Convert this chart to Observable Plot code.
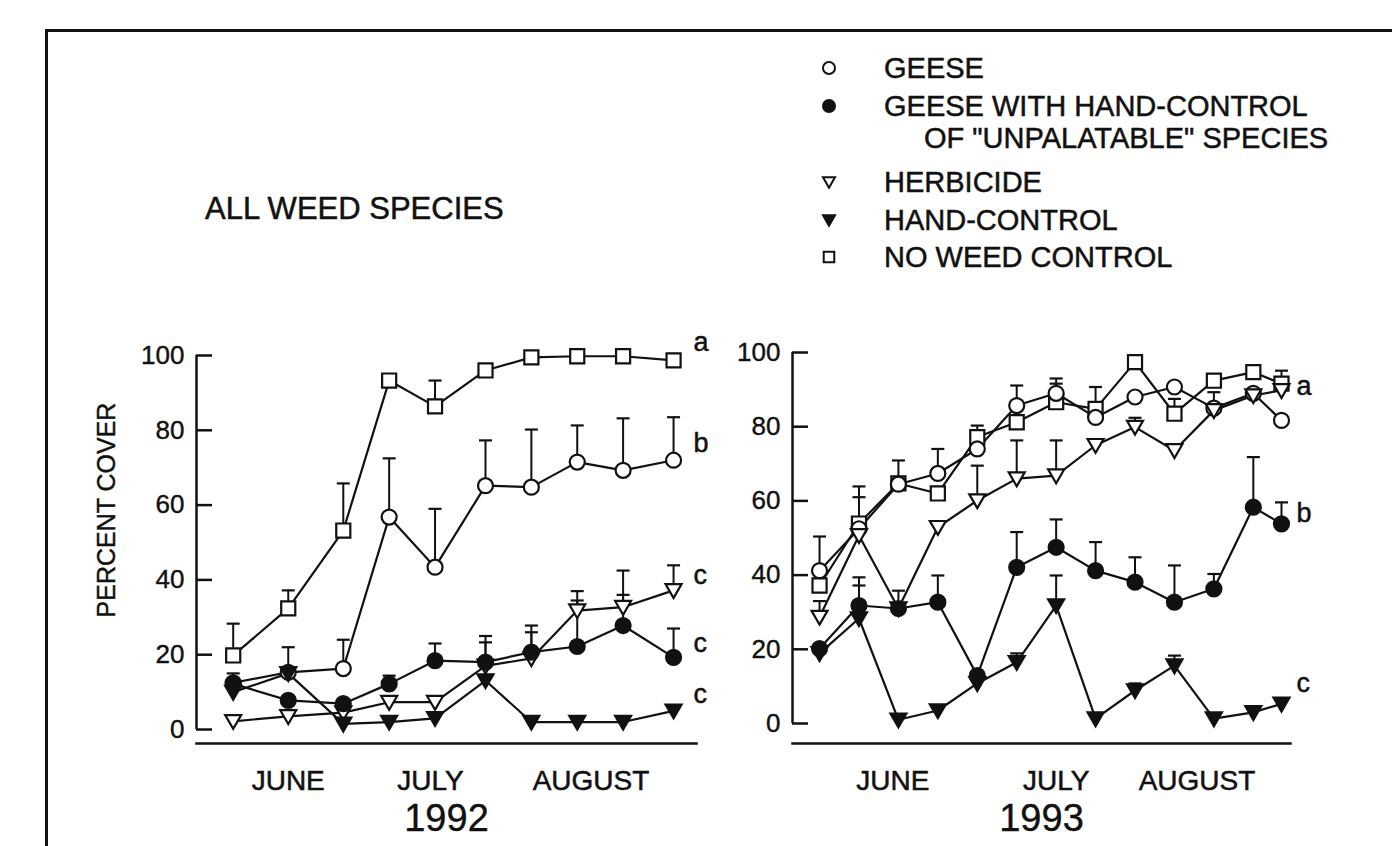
<!DOCTYPE html>
<html>
<head>
<meta charset="utf-8">
<script src="https://cdn.jsdelivr.net/npm/d3@7"></script>
<script src="https://cdn.jsdelivr.net/npm/@observablehq/plot@0.6"></script>
<style>
  html, body { margin: 0; padding: 0; background: #fff; }
  #wrap { position: relative; width: 1392px; height: 846px; overflow: hidden; background: #fff;
          font-family: "Liberation Sans", Arial, Helvetica, sans-serif; color: #111; }
  .border { position: absolute; left: 45px; top: 29px; right: -10px; bottom: -10px;
            border-top: 3px solid #111; border-left: 3px solid #111; }
  .title { position: absolute; left: 205px; top: 191px; font-size: 31px; line-height: 36px; white-space: nowrap;
           -webkit-text-stroke: 0.5px #111; }
  .ylab { position: absolute; left: 106px; top: 510px; font-size: 25px; line-height: 28px; white-space: nowrap;
          transform: translate(-50%, -50%) rotate(-90deg); -webkit-text-stroke: 0.4px #111; }
  .leg { position: absolute; left: 815px; top: 0; width: 570px; height: 290px; }
  .row { position: absolute; left: 0; height: 32px; line-height: 32px; font-size: 29px; white-space: nowrap;
         -webkit-text-stroke: 0.5px #111; }
  .row svg { position: absolute; left: 0; top: 4px; }
  .row span { position: absolute; left: 69px; }
  .panel { position: absolute; top: 320px; }
  .panel svg { overflow: visible; }
</style>
</head>
<body>
<div id="wrap">
  <div class="border"></div>
  <div class="title" id="title"></div>
  <div class="ylab" id="ylab"></div>
  <div class="leg" id="legend"></div>
  <div class="panel" id="p1992" style="left:60px"></div>
  <div class="panel" id="p1993" style="left:720px"></div>
</div>
<script>
// ---------------- data ----------------
const chartTitle = "ALL WEED SPECIES";
const yAxisLabel = "PERCENT COVER";
const yTicks = [0, 20, 40, 60, 80, 100];
const monthLabels = ["JUNE", "JULY", "AUGUST"];

// sampling days (days after 31 May)
const days1992 = [3, 15, 27, 37, 47, 58, 68, 78, 88, 99];
const monthDays1992 = [15, 46, 81];
const geese1992        = [12.5, 15.3, 16.3, 56.8, 43.4, 65.2, 64.8, 71.5, 69.3, 72.0];
const geeseErr1992     = [null, 22.0, 24.0, 72.5, 59.0, 77.3, 80.2, 81.3, 83.2, 83.5];
const geeseHand1992    = [12.2, 7.8, 6.9, 12.2, 18.4, 18.0, 20.7, 22.2, 27.8, 19.3];
const geeseHandErr1992 = [15.0, null, null, 14.4, 23.0, null, 27.8, 34.5, 36.0, 27.0];
const herbicide1992    = [2.2, 3.5, 4.5, 7.3, 7.3, 17.0, 19.0, 31.8, 32.7, 37.2];
const herbicideErr1992 = [null, null, null, null, null, 25.0, 26.0, 37.0, 42.5, 43.9];
const hand1992         = [10.0, 15.0, 1.5, 2.0, 3.0, 13.1, 2.0, 2.0, 2.0, 5.0];
const handErr1992      = [null, null, null, null, null, 23.3, null, null, null, null];
const none1992         = [19.8, 32.4, 53.2, 93.3, 86.4, 96.0, 99.5, 99.8, 99.8, 98.7];
const noneErr1992      = [28.3, 37.2, 65.8, null, 93.3, null, null, null, null, null];
const letters1992      = ["a", "b", "c", "c", "c"];
const letterY1992      = [103.5, 76.5, 41.2, 23.0, 9.3];

const days1993 = [2, 9, 16, 23, 30, 37, 44, 51, 58, 65, 72, 79, 84];
const monthDays1993 = [15, 44, 69];
const geese1993        = [41.2, 52.5, 64.5, 67.4, 74.0, 85.7, 89.0, 82.5, 88.0, 90.7, 85.0, 89.0, 81.7];
const geeseErr1993     = [50.4, 63.9, null, 74.0, 80.3, 91.1, 93.0, null, null, null, null, null, null];
const geeseHand1993    = [20.2, 31.8, 31.0, 32.7, 12.9, 42.1, 47.5, 41.2, 38.1, 32.7, 36.3, 58.3, 53.8];
const geeseHandErr1993 = [null, 39.4, null, 39.9, null, 51.6, 55.0, 48.9, 44.8, 42.6, 40.3, 71.8, 59.6];
const herbicide1993    = [28.7, 50.7, 31.0, 52.9, 60.1, 66.0, 66.8, 75.0, 79.9, 73.6, 84.4, 88.4, 89.8];
const herbicideErr1993 = [33.0, null, 35.8, null, 69.5, 76.3, 76.3, null, 82.4, null, 89.3, null, null];
const hand1993         = [18.9, 28.3, 1.0, 3.5, 10.8, 16.5, 31.8, 1.3, 8.9, 15.6, 1.3, 3.0, 5.3];
const handErr1993      = [null, 37.2, null, null, null, 18.9, 39.9, null, 10.8, 18.3, null, null, null];
const none1993         = [37.2, 53.9, 64.7, 62.0, 77.2, 81.2, 86.6, 84.8, 97.4, 83.5, 92.4, 94.7, 91.6];
const noneErr1993      = [null, 61.0, 70.9, null, 78.5, null, 91.6, 90.7, null, 87.5, null, null, 95.1];
const letters1993      = ["a", "b", "c"];
const letterY1993      = [91.0, 56.6, 10.8];

const legendLines = ["GEESE", "GEESE WITH HAND-CONTROL", "OF \"UNPALATABLE\" SPECIES", "HERBICIDE", "HAND-CONTROL", "NO WEED CONTROL"];

// ---------------- symbols ----------------
const INK = "#111";
const triDown = { draw(ctx, size) { const r = Math.sqrt(size / Math.PI);
  ctx.moveTo(-r * 1.0, -r * 0.78); ctx.lineTo(r * 1.0, -r * 0.78); ctx.lineTo(0, r * 0.95); ctx.closePath(); } };
const squareSym = { draw(ctx, size) { const r = Math.sqrt(size / Math.PI) * 0.88;
  ctx.moveTo(-r, -r); ctx.lineTo(r, -r); ctx.lineTo(r, r); ctx.lineTo(-r, r); ctx.closePath(); } };
const capSym = { draw(ctx, size) { const r = Math.sqrt(size / Math.PI);
  ctx.moveTo(-r, 0); ctx.lineTo(r, 0); } };

const styles = {
  none:      { symbol: squareSym, fill: "white", r: 8 },
  geese:     { symbol: "circle",  fill: "white", r: 7.5 },
  herbicide: { symbol: triDown,   fill: "white", r: 8 },
  geeseHand: { symbol: "circle",  fill: INK,     r: 7.5 },
  hand:      { symbol: triDown,   fill: INK,     r: 8 }
};

function makePanel(cfg) {
  const series = [
    { key: "none", v: cfg.none, e: cfg.noneErr },
    { key: "geese", v: cfg.geese, e: cfg.geeseErr },
    { key: "herbicide", v: cfg.herbicide, e: cfg.herbicideErr },
    { key: "geeseHand", v: cfg.geeseHand, e: cfg.geeseHandErr },
    { key: "hand", v: cfg.hand, e: cfg.handErr }
  ];
  const rows = series.map(s => cfg.days.map((d, i) => ({ day: d, v: s.v[i], err: s.e[i], key: s.key })));
  const all = rows.flat();
  const errs = all.filter(d => d.err != null);
  const letters = cfg.letters.map((t, i) => ({ t, y: cfg.letterY[i] }));
  const x0 = cfg.xDomain[0];
  const marks = [
    Plot.ruleX([x0], { y1: 0, y2: 100, stroke: INK, strokeWidth: 2.5 }),
    Plot.frame({ anchor: "bottom", stroke: INK, strokeWidth: 2.5 }),
    Plot.axisY(yTicks, { tickSize: -16, tickFormat: () => "", stroke: INK, strokeWidth: 2.5, label: null }),
    Plot.axisY(yTicks, { tickSize: 0, tickPadding: 12, fontSize: 26, fill: INK, textStroke: INK, textStrokeWidth: 0.4, label: null }),
    Plot.axisX(cfg.monthDays, { tickSize: 0, tickPadding: 27, fontSize: 28, fill: INK, textStroke: INK, textStrokeWidth: 0.5,
      tickFormat: (d, i) => monthLabels[i], label: null }),
    Plot.line(all, { x: "day", y: "v", z: "key", stroke: INK, strokeWidth: 2.2 }),
    Plot.ruleX(errs, { x: "day", y1: "v", y2: "err", stroke: INK, strokeWidth: 2 }),
    Plot.dot(errs, { x: "day", y: "err", symbol: capSym, r: 6.5, stroke: INK, strokeWidth: 2.2 })
  ];
  rows.forEach(r => {
    const st = styles[r[0].key];
    marks.push(Plot.dot(r, { x: "day", y: "v", symbol: st.symbol, r: st.r, fill: st.fill, stroke: INK, strokeWidth: 2.2 }));
  });
  marks.push(Plot.text(letters, { y: "y", text: "t", frameAnchor: "right", dx: cfg.letterDx, textAnchor: "start",
    fontSize: 27, fill: INK, stroke: INK, strokeWidth: 0.5 }));
  marks.push(Plot.text([cfg.year], { frameAnchor: "bottom", dy: 87, fontSize: 38, fill: INK, stroke: INK, strokeWidth: 0.4 }));
  return Plot.plot({
    width: cfg.width, height: 526,
    marginLeft: cfg.marginLeft, marginRight: cfg.marginRight, marginTop: cfg.marginTop, marginBottom: 103,
    style: { fontFamily: "'Liberation Sans', Arial, Helvetica, sans-serif", background: "transparent", color: INK, overflow: "visible" },
    x: { domain: cfg.xDomain },
    y: { domain: cfg.yDomain },
    marks
  });
}

document.getElementById("p1992").appendChild(makePanel({
  days: days1992, monthDays: monthDays1992, year: "1992",
  geese: geese1992, geeseErr: geeseErr1992, geeseHand: geeseHand1992, geeseHandErr: geeseHandErr1992,
  herbicide: herbicide1992, herbicideErr: herbicideErr1992, hand: hand1992, handErr: handErr1992,
  none: none1992, noneErr: noneErr1992, letters: letters1992, letterY: letterY1992, letterDx: -3,
  width: 660, marginLeft: 136, marginRight: 24, marginTop: 35,
  xDomain: [-5, 104], yDomain: [-3.74, 100]
}));

document.getElementById("p1993").appendChild(makePanel({
  days: days1993, monthDays: monthDays1993, year: "1993",
  geese: geese1993, geeseErr: geeseErr1993, geeseHand: geeseHand1993, geeseHandErr: geeseHandErr1993,
  herbicide: herbicide1993, herbicideErr: herbicideErr1993, hand: hand1993, handErr: handErr1993,
  none: none1993, noneErr: noneErr1993, letters: letters1993, letterY: letterY1993, letterDx: 6,
  width: 672, marginLeft: 72, marginRight: 102, marginTop: 32,
  xDomain: [-2.8, 85.6], yDomain: [-5.39, 100]
}));

// ---------------- title, y label & legend ----------------
document.getElementById("title").textContent = chartTitle;
document.getElementById("ylab").textContent = yAxisLabel;
const legendSyms = [styles.geese, styles.geeseHand, null, styles.herbicide, styles.hand, styles.none];
const legendY = [68, 106, 138, 182, 220, 257];
const leg = document.getElementById("legend");
legendLines.forEach((txt, i) => {
  const row = document.createElement("div");
  row.className = "row";
  row.style.top = (legendY[i] - 16) + "px";
  const st = legendSyms[i];
  if (st) {
    const svg = d3.create("svg").attr("width", 28).attr("height", 24);
    const sz = Math.PI * 6 * 6;
    const p = d3.path();
    if (st.symbol === "circle") { p.arc(0, 0, 6, 0, 2 * Math.PI); }
    else st.symbol.draw(p, sz);
    svg.append("path").attr("transform", "translate(14,12)").attr("d", p.toString())
      .attr("fill", st.fill).attr("stroke", INK).attr("stroke-width", 2);
    row.appendChild(svg.node());
  }
  const span = document.createElement("span");
  span.textContent = txt;
  if (i === 2) span.style.left = "109px";
  row.appendChild(span);
  leg.appendChild(row);
});
</script>
</body>
</html>
